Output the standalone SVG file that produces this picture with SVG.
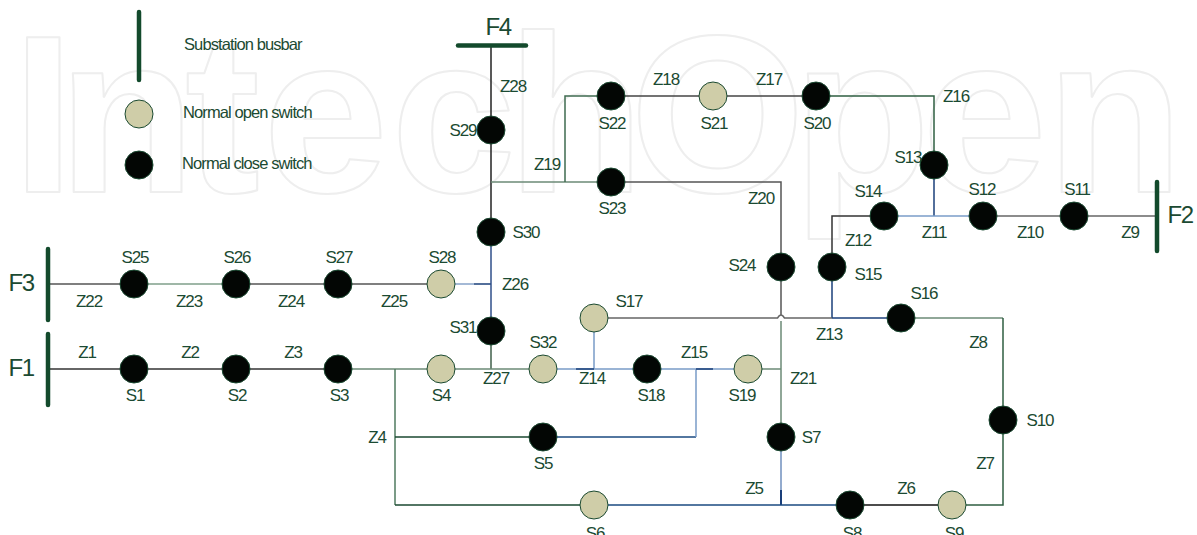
<svg xmlns="http://www.w3.org/2000/svg" width="1197" height="535" viewBox="0 0 1197 535">
<style>
text{font-family:"Liberation Sans",Arial,sans-serif;fill:#1b4a32}
.l{font-size:17px;letter-spacing:-1.100px;text-anchor:middle;transform:translateY(1px)}
.f{font-size:24px;letter-spacing:-1.500px;text-anchor:middle}
.g{font-size:16.500px;letter-spacing:-.9px}
.wm{font-size:225px;font-weight:bold;fill:none;stroke:#eeeeee;stroke-width:2;stroke-linejoin:round}
.c{fill:none;stroke-width:1.500}
.bar{stroke:#134a2c;stroke-width:4.500;stroke-linecap:round;fill:none}
.cl{fill:#030604;stroke:#1b4a32;stroke-width:1}
.op{fill:#cfcda8;stroke:#1b4a32;stroke-width:1}
</style>
<rect width="1197" height="535" fill="#fff"/>
<text class="wm" y="192" x="12 58 185 263 391 507 630 793 922 1046">IntechOpen</text>
<g id="connectors">
<path class="c" stroke="#222" d="M491 45V232"/>
<path class="c" stroke="#6b8a76" d="M491 182H611"/>
<path class="c" stroke="#3f6b50" stroke-width="1" d="M565 182V96H611"/>
<path class="c" stroke="#444" d="M611 96H815"/>
<path class="c" stroke="#2f5f42" d="M815 96H934V164"/>
<path class="c" stroke="#555" d="M611 182H781V267"/>
<path class="c" stroke="#555" d="M781 267V315"/>
<path class="c" stroke="#6b8a76" d="M781 321V437"/>
<path class="c" stroke="#6f8fbe" d="M781 437V490"/>
<path stroke="#1a3f7a" stroke-width="2" fill="none" d="M781 490V505"/>
<path class="c" stroke="#1a3f7a" d="M934 164V216"/>
<path class="c" stroke="#7a9cc8" d="M884 216H983"/>
<path class="c" stroke="#666" d="M983 216H1157"/>
<path class="c" stroke="#333" d="M884 216H832V267"/>
<path class="c" stroke="#1a3f7a" d="M832 267V318"/>
<path class="c" stroke="#666" d="M594 318H777.500Q781 312 784.500 318H832"/>
<path class="c" stroke="#1a3f7a" d="M832 318H901"/>
<path class="c" stroke="#6b8a76" d="M901 318H1003"/>
<path class="c" stroke="#2f5f42" d="M1003 318V505H952"/>
<path class="c" stroke="#555" d="M48 284H134"/>
<path class="c" stroke="#7f9f8a" d="M134 284H236"/>
<path class="c" stroke="#555" d="M236 284H441"/>
<path class="c" stroke="#86a2c8" d="M441 284H474"/>
<path stroke="#1a3f7a" stroke-width="1.500" fill="none" d="M474 284H491"/>
<path class="c" stroke="#2f4f8a" d="M491 232V331"/>
<path class="c" stroke="#3f5f4a" d="M491 331V369"/>
<path class="c" stroke="#333" d="M48 369H338"/>
<path class="c" stroke="#6b8a76" d="M338 369H543"/>
<path class="c" stroke="#4f7a5f" d="M395 369V505"/>
<path class="c" stroke="#1b4a32" d="M395 505H594M395 437H543"/>
<path class="c" stroke="#1a4a80" d="M543 437H696"/>
<path class="c" stroke="#7a9cc8" d="M696 437V369M543 369H748M594 318V369"/>
<path stroke="#1a3f7a" stroke-width="1.500" fill="none" d="M576 369H594M696 369H713"/>
<path class="c" stroke="#6b8a76" d="M748 369H781"/>
<path class="c" stroke="#1a4a80" d="M594 505H850"/>
<path class="c" stroke="#111" d="M850 505H952"/>
</g>
<g id="legend">
<path class="bar" d="M139 12V80"/>
<circle class="op" cx="139" cy="114" r="14"/>
<circle class="cl" cx="139" cy="165" r="14"/>
<text class="g" x="184" y="50">Substation busbar</text>
<text class="g" x="183" y="118">Normal open switch</text>
<text class="g" x="182" y="169">Normal close switch</text>
</g>
<g id="F1"><path class="bar" d="M48 334V405"/><text class="f" x="21" y="376">F1</text></g>
<g id="F2"><path class="bar" d="M1157 182V251"/><text class="f" x="1180" y="223">F2</text></g>
<g id="F3"><path class="bar" d="M48 249V320"/><text class="f" x="21" y="291">F3</text></g>
<g id="F4"><path class="bar" d="M458 45.500H526"/><text class="f" x="498" y="35">F4</text></g>
<g id="S1"><circle class="cl" cx="134" cy="369" r="14"/><text class="l" x="135" y="400">S1</text></g>
<g id="S2"><circle class="cl" cx="236" cy="369" r="14"/><text class="l" x="237" y="400">S2</text></g>
<g id="S3"><circle class="cl" cx="338" cy="369" r="14"/><text class="l" x="339" y="400">S3</text></g>
<g id="S4"><circle class="op" cx="441" cy="369" r="14"/><text class="l" x="441" y="400">S4</text></g>
<g id="S5"><circle class="cl" cx="543" cy="437" r="14"/><text class="l" x="543" y="468">S5</text></g>
<g id="S6"><circle class="op" cx="594" cy="505" r="14"/><text class="l" x="595" y="538">S6</text></g>
<g id="S7"><circle class="cl" cx="781" cy="437" r="14"/><text class="l" x="811" y="442">S7</text></g>
<g id="S8"><circle class="cl" cx="850" cy="505" r="14"/><text class="l" x="852" y="538">S8</text></g>
<g id="S9"><circle class="op" cx="952" cy="505" r="14"/><text class="l" x="954" y="538">S9</text></g>
<g id="S10"><circle class="cl" cx="1003" cy="420" r="14"/><text class="l" x="1040" y="425">S10</text></g>
<g id="S11"><circle class="cl" cx="1074" cy="216" r="14"/><text class="l" x="1077" y="194">S11</text></g>
<g id="S12"><circle class="cl" cx="983" cy="216" r="14"/><text class="l" x="982" y="194">S12</text></g>
<g id="S13"><circle class="cl" cx="934" cy="165" r="14"/><text class="l" x="908" y="162">S13</text></g>
<g id="S14"><circle class="cl" cx="884" cy="216" r="14"/><text class="l" x="868" y="196">S14</text></g>
<g id="S15"><circle class="cl" cx="832" cy="267" r="14"/><text class="l" x="868" y="279">S15</text></g>
<g id="S16"><circle class="cl" cx="901" cy="318" r="14"/><text class="l" x="924" y="298">S16</text></g>
<g id="S17"><circle class="op" cx="594" cy="318" r="14"/><text class="l" x="629" y="306">S17</text></g>
<g id="S18"><circle class="cl" cx="647" cy="369" r="14"/><text class="l" x="651" y="400">S18</text></g>
<g id="S19"><circle class="op" cx="748" cy="369" r="14"/><text class="l" x="742" y="400">S19</text></g>
<g id="S20"><circle class="cl" cx="816" cy="96" r="14"/><text class="l" x="817" y="128">S20</text></g>
<g id="S21"><circle class="op" cx="713" cy="96" r="14"/><text class="l" x="714" y="128">S21</text></g>
<g id="S22"><circle class="cl" cx="611" cy="96" r="14"/><text class="l" x="612" y="128">S22</text></g>
<g id="S23"><circle class="cl" cx="611" cy="182" r="14"/><text class="l" x="612" y="213">S23</text></g>
<g id="S24"><circle class="cl" cx="781" cy="267" r="14"/><text class="l" x="742" y="270">S24</text></g>
<g id="S25"><circle class="cl" cx="134" cy="284" r="14"/><text class="l" x="135" y="262">S25</text></g>
<g id="S26"><circle class="cl" cx="236" cy="284" r="14"/><text class="l" x="237" y="262">S26</text></g>
<g id="S27"><circle class="cl" cx="338" cy="284" r="14"/><text class="l" x="339" y="262">S27</text></g>
<g id="S28"><circle class="op" cx="441" cy="284" r="14"/><text class="l" x="442" y="262">S28</text></g>
<g id="S29"><circle class="cl" cx="491" cy="130" r="14"/><text class="l" x="463" y="135">S29</text></g>
<g id="S30"><circle class="cl" cx="491" cy="232" r="14"/><text class="l" x="526" y="237">S30</text></g>
<g id="S31"><circle class="cl" cx="491" cy="331" r="14"/><text class="l" x="463" y="332">S31</text></g>
<g id="S32"><circle class="op" cx="543" cy="369" r="14"/><text class="l" x="543" y="347">S32</text></g>
<g id="zone-labels">
<text class="l" x="87" y="357">Z1</text><text class="l" x="190" y="357">Z2</text><text class="l" x="293" y="357">Z3</text>
<text class="l" x="377" y="442">Z4</text><text class="l" x="754" y="493">Z5</text><text class="l" x="906" y="493">Z6</text>
<text class="l" x="985" y="468">Z7</text><text class="l" x="978" y="347">Z8</text><text class="l" x="1130" y="237">Z9</text>
<text class="l" x="1030" y="237">Z10</text><text class="l" x="934" y="237">Z11</text><text class="l" x="858" y="245">Z12</text>
<text class="l" x="829" y="339">Z13</text><text class="l" x="592" y="383">Z14</text><text class="l" x="694" y="357">Z15</text>
<text class="l" x="956" y="101">Z16</text><text class="l" x="769" y="84">Z17</text><text class="l" x="666" y="84">Z18</text>
<text class="l" x="547" y="169">Z19</text><text class="l" x="761" y="203">Z20</text><text class="l" x="803" y="383">Z21</text>
<text class="l" x="89" y="306">Z22</text><text class="l" x="189" y="306">Z23</text><text class="l" x="291" y="306">Z24</text>
<text class="l" x="394" y="306">Z25</text><text class="l" x="515" y="289">Z26</text><text class="l" x="496" y="383">Z27</text>
<text class="l" x="513" y="91">Z28</text>
</g>
</svg>
